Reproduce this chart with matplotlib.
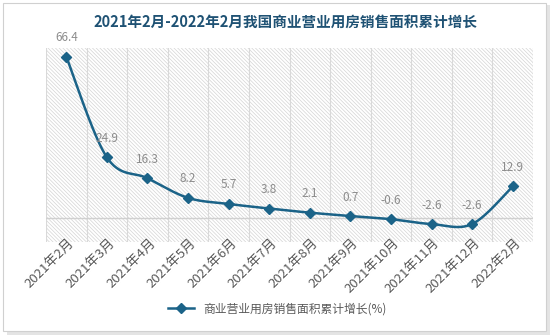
import numpy as np
import matplotlib
matplotlib.use("Agg")
import matplotlib.pyplot as plt
from matplotlib.patches import Rectangle
from matplotlib.lines import Line2D
import matplotlib.transforms as mtransforms

plt.rcParams['font.family'] = ['Noto Sans CJK SC', 'DejaVu Sans']
plt.rcParams['hatch.linewidth'] = 0.5
plt.rcParams['hatch.color'] = '#d4d4d4'

categories = ["2021年2月", "2021年3月", "2021年4月", "2021年5月", "2021年6月", "2021年7月",
              "2021年8月", "2021年9月", "2021年10月", "2021年11月", "2021年12月", "2022年2月"]
values = [66.4, 24.9, 16.3, 8.2, 5.7, 3.8, 2.1, 0.7, -0.6, -2.6, -2.6, 12.9]
series_name = "商业营业用房销售面积累计增长(%)"
title = "2021年2月-2022年2月我国商业营业用房销售面积累计增长"

line_color = '#1B6388'
title_color = '#1F5274'

fig = plt.figure(figsize=(5.54, 3.35), dpi=100)
# outer frame with shadow
fig.patches.append(Rectangle((0.013, 0.0), 0.98, 0.985, transform=fig.transFigure,
                             facecolor='#e4e4e4', edgecolor='none', zorder=-2))
fig.patches.append(Rectangle((0.006, 0.012), 0.98, 0.98, transform=fig.transFigure,
                             facecolor='white', edgecolor='#d0d0d0', linewidth=0.8, zorder=-1))

ax = fig.add_axes([46/554, 1 - 242/335, (533-46)/554, (242-48)/335])
ax.set_zorder(2)
ax.set_facecolor('none')
n = len(values)
x = np.arange(n)
ax.set_xlim(-0.5, n - 0.5)
ax.set_ylim(-10, 70)

# hatched background
ax.add_patch(Rectangle((0, 0), 1, 1, transform=ax.transAxes, facecolor='white',
                       edgecolor='#d4d4d4', hatch='\\' * 9, linewidth=0, zorder=0))

# vertical gridlines at category boundaries
for b in np.arange(-0.5, n, 1.0):
    ax.axvline(b, color='#d9d9d9', linewidth=0.8, zorder=1)
ax.axhline(0, color='#d0d0d0', linewidth=1.0, zorder=1)

# smooth Catmull-Rom style curve through the data points (pixel-aspect aware)
sx, sy = 40.6, 2.43
P = np.column_stack([x * sx, np.array(values) * sy])
Pext = np.vstack([P[0], P, P[-1]])
curve = []
t = np.linspace(0, 1, 30)
for i in range(n - 1):
    p0, p1, p2, p3 = Pext[i], Pext[i + 1], Pext[i + 2], Pext[i + 3]
    c1 = p1 + (p2 - p0) / 6.0
    c2 = p2 - (p3 - p1) / 6.0
    seg = ((1 - t) ** 3)[:, None] * p1 + (3 * (1 - t) ** 2 * t)[:, None] * c1 + \
          (3 * (1 - t) * t ** 2)[:, None] * c2 + (t ** 3)[:, None] * p2
    curve.append(seg)
curve = np.vstack(curve)
ax.plot(curve[:, 0] / sx, curve[:, 1] / sy, color=line_color, linewidth=1.8, zorder=3,
        solid_capstyle='round')
ax.plot(x, values, linestyle='none', marker='D', markersize=5, color=line_color, zorder=4)

for xi, v in zip(x, values):
    ax.annotate(f"{v:.1f}", (xi, v), xytext=(0, 9), textcoords='offset points',
                ha='center', va='bottom', fontsize=8.5, color='#8c8c8c', zorder=5,
                annotation_clip=False)

ax.set_xticks(x)
ax.set_xticklabels(categories, rotation=45, ha='right', rotation_mode='anchor',
                   fontsize=9.5, color='#595959', fontweight='medium')
ax.tick_params(axis='x', length=0, pad=-4)
offset = mtransforms.ScaledTranslation(1.5/100, 0, fig.dpi_scale_trans)
for lbl in ax.get_xticklabels():
    lbl.set_transform(lbl.get_transform() + offset)
ax.set_yticks([])
for s in ax.spines.values():
    s.set_visible(False)

fig.text(0.515, 1 - 22/335, title, ha='center', va='center', fontsize=10.5,
         fontweight='bold', color=title_color)

handle = Line2D([], [], color=line_color, linewidth=1.8, marker='D', markersize=5)
fig.legend([handle], [series_name], loc='center', bbox_to_anchor=(0.5, 1 - 309/335),
           frameon=False, fontsize=8.5, labelcolor='#595959', handlelength=2.2)

fig.savefig("out.png", dpi=100)
